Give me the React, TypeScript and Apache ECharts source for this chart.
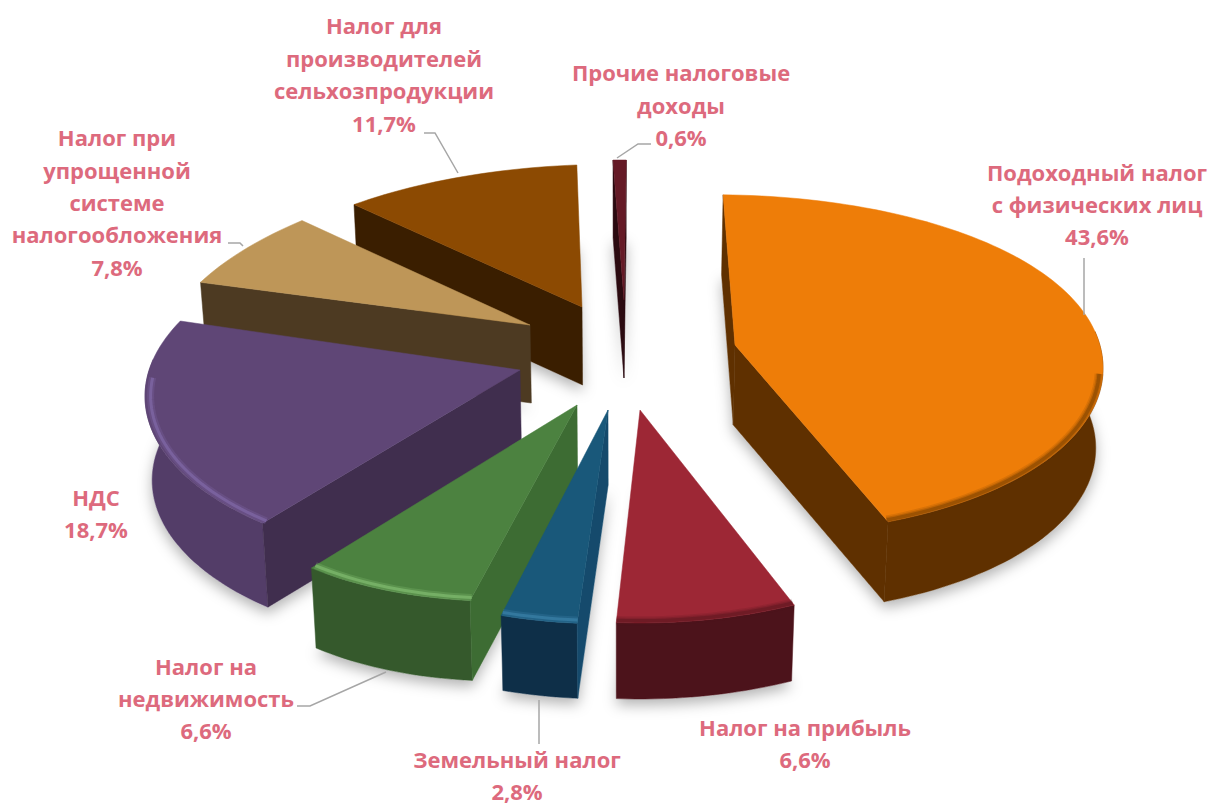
import React, { useEffect, useRef } from "react";
import * as echarts from "echarts";

const sliceNames = [
  "Подоходный налог\nс физических лиц",
  "Налог на прибыль",
  "Земельный налог",
  "Налог на\nнедвижимость",
  "НДС",
  "Налог при\nупрощенной\nсистеме\nналогообложения",
  "Налог для\nпроизводителей\nсельхозпродукции",
  "Прочие налоговые\nдоходы",
];
const sliceValues = [43.6, 6.6, 2.8, 6.6, 18.7, 7.8, 11.7, 0.6];

// look of each slice
const topColors = ["#EE7D08", "#9D2735", "#19587A", "#4C8240", "#5F4676", "#BE9658", "#8C4A02", "#651A26"];
const wallColors = ["#5F3000", "#4C131B", "#0E2F48", "#35592C", "#533D68", "#4D3A22", "#3A1E00", "#2B0A10"];
const faceColors = ["#5F3000", "#4C131B", "#154A6C", "#3D6C33", "#402E4E", "#4D3A22", "#3A1E00", "#2B0A10"];
const bevelColors = ["#5F3000", "#4C131B", "#3A7FA6", "#7DB86D", "#7F67A6", "#BE9658", "#8C4A02", "#651A26"];
const bevelLight = [false, false, true, true, true, false, false, false];

// layout of the exploded, tilted pie
const apexX = [735, 640, 608, 577, 520, 530, 582, 624];
const apexY = [345, 410, 410, 405, 370, 325, 307, 300];
const radii = [368, 372, 372, 372, 375, 372, 372, 372];
const depths = [80, 76, 75, 80, 84, 78, 78, 78];
const arcLift = [-5, 4, 5, -17.5, -19.7, -12.3, 2.8, 5];
const arcTilt = [8, 0, 0, -43, -26, -33, -11.7, 0];
const arcFront = [-15, 0, 0, 0, 0, 0, 0, 0];
const startNudge = [1.15, -1, 4.1, 5.8, 8.3, 14.2, 10.2, 3.5];
const endNudge = [-1.1, 3, 5.8, 10.5, 11.6, 10.2, 4.4, 3.35];
const drawOrder = [7, 6, 5, 4, 0, 3, 2, 1];
const viewX = 620;
const firstAngle = -3;

const labelCenters = [
  [1097, 204], [805, 743], [517, 775], [206, 698], [96, 513], [117, 202], [384, 74], [681, 104.5],
];
const leaders = [
  [[1084, 258], [1084, 315]],
  [[539, 700], [539, 744]],
  [[297, 706], [310, 706], [386, 672]],
  [[228, 243], [240, 243], [243, 246]],
  [[424, 133], [435, 133], [458, 173]],
  [[651, 144], [638, 144], [617, 158]],
];

const total = sliceValues.reduce((a, b) => a + b, 0);
const rad = (d: number) => (d * Math.PI) / 180;

function arcPoint(i: number, deg: number): number[] {
  const u = Math.sin(rad(deg));
  const v = Math.cos(rad(deg));
  const front = v < 0 ? arcFront[i] * v * v : 0;
  return [
    apexX[i] + radii[i] * u,
    apexY[i] + 20 - 177 * v + 12 * v * v + arcLift[i] + arcTilt[i] * u + front,
  ];
}
function arc(i: number, a: number, b: number): number[][] {
  const pts: number[][] = [];
  const n = Math.max(2, Math.ceil((b - a) / 1.5));
  for (let k = 0; k <= n; k++) pts.push(arcPoint(i, a + ((b - a) * k) / n));
  return pts;
}

const spans: number[][] = [];
{
  let acc = firstAngle;
  sliceValues.forEach((v, i) => {
    const sweep = (v / total) * 360;
    spans.push([acc + startNudge[i], acc + sweep + endNudge[i]]);
    acc += sweep;
  });
}

function renderSlice(params: any) {
  const i = params.dataIndex;
  const drop = (p: number[]) => [viewX + (p[0] - viewX) * 0.985, p[1] + depths[i]];
  const base = (drawOrder.indexOf(i) + 1) * 10;
  const [a, b] = spans[i];
  const apex = [apexX[i], apexY[i]];
  const outline = arc(i, a, b);
  const first = outline[0];
  const last = outline[outline.length - 1];
  const children: any[] = [];
  const poly = (points: number[][], fill: string, z2: number) => ({
    type: "polygon",
    silent: true,
    z2,
    shape: { points },
    style: { fill, stroke: fill, lineWidth: 0.5 },
  });

  // soft ground shadow under the slice
  children.push({
    type: "polygon",
    silent: true,
    z2: 1,
    shape: { points: [apex, ...outline].map(drop) },
    style: { fill: "#ffffff", shadowBlur: 14, shadowColor: "rgba(0,0,0,0.3)", shadowOffsetY: 6 },
  });

  // outer wall (front part of the arc only)
  const wa = Math.max(a, 78);
  const wb = Math.min(b, 282);
  if (wb > wa) {
    const w = arc(i, wa, wb);
    children.push(poly([...w, ...w.slice().reverse().map(drop)], wallColors[i], base + 1));
  }
  // cut faces turned to the viewer
  if (first[0] < apex[0]) {
    children.push(poly([apex, first, drop(first), drop(apex)], faceColors[i], base + 2));
  }
  if (apex[0] < last[0]) {
    children.push(poly([last, apex, drop(apex), drop(last)], faceColors[i], base + 2));
  }
  // top face
  children.push(poly([apex, ...outline], topColors[i], base + 3));

  // bevel along the front arc, just inside the rim
  const ba = Math.max(a, 92);
  const bb = Math.min(b, 276);
  if (bb > ba) {
    const edge = arc(i, ba, bb);
    const line = (r: number, width: number, opacity: number, z: number) => ({
      type: "polyline",
      silent: true,
      z2: z,
      shape: {
        points: edge.map((p) => [apex[0] + (p[0] - apex[0]) * r, apex[1] + (p[1] - apex[1]) * r]),
      },
      style: { fill: "none", stroke: bevelColors[i], lineWidth: width, opacity },
    });
    if (bevelLight[i]) {
      children.push(line(0.985, 7, 0.3, base + 4), line(0.985, 3, 0.75, base + 5));
    } else {
      children.push(
        line(0.99, 9, 0.14, base + 4),
        line(0.99, 6, 0.22, base + 5),
        line(0.99, 3.5, 0.35, base + 6),
      );
    }
  }
  return { type: "group", children };
}

export default function App() {
  const ref = useRef<HTMLDivElement>(null);
  useEffect(() => {
    document.body.style.margin = "0";
    const chart = echarts.init(ref.current!, null, { renderer: "svg" });
    const labels = sliceNames.map((name, i) => ({
      type: "text",
      silent: true,
      z: 10,
      x: labelCenters[i][0],
      y: labelCenters[i][1],
      style: {
        text: `${name}\n${sliceValues[i].toFixed(1).replace(".", ",")}%`,
        fill: "#DD6A7D",
        font: 'bold 22px "Open Sans", sans-serif',
        lineHeight: 32.4,
        align: "center",
        verticalAlign: "middle",
      },
    }));
    const lines = leaders.map((points) => ({
      type: "polyline",
      silent: true,
      z: 10,
      shape: { points },
      style: { fill: "none", stroke: "#A6A6A6", lineWidth: 1.5 },
    }));
    chart.setOption({
      animation: false,
      backgroundColor: "#ffffff",
      graphic: [...labels, ...lines],
      series: [
        {
          type: "custom",
          coordinateSystem: "none",
          renderItem: renderSlice,
          data: sliceValues.map((v, i) => [i, v]),
          silent: true,
        },
      ],
    });
    return () => chart.dispose();
  }, []);
  return <div ref={ref} style={{ width: 1211, height: 805 }} />;
}
